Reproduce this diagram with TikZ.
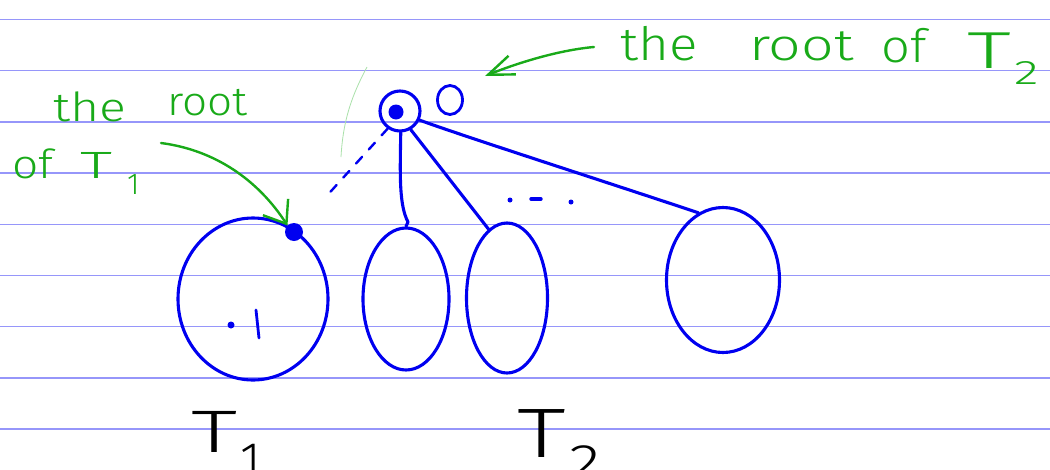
\documentclass[tikz,border=0pt]{standalone}
\usepackage{fontspec}
\IfFontExistsTF{Fira Sans Light}{\newfontfamily\hand{Fira Sans Light}}{\newfontfamily\hand{Fira Sans}}
\usetikzlibrary{shapes.geometric,arrows.meta}
\definecolor{rulec}{RGB}{150,150,250}
\definecolor{pen}{RGB}{0,0,240}
\definecolor{gpen}{RGB}{25,170,25}
\definecolor{faint}{RGB}{170,225,170}
\newcommand\hw[3]{{\hand\fontsize{#1}{#1}\selectfont\scalebox{#2}[1]{#3}}}
\begin{document}
\begin{tikzpicture}[x=1pt,y=-1pt,
  rule/.style={rulec,line width=1.4pt},
  bluepen/.style={pen,line width=3.1pt,line cap=round,line join=round},
  greenpen/.style={gpen,line width=2.4pt,line cap=round,line join=round},
  subtree/.style={ellipse,draw=pen,line width=3.1pt,inner sep=0pt},
  gtext/.style={text=gpen,inner sep=0pt,anchor=base west},
  ktext/.style={text=black,inner sep=0pt,anchor=base west},
]
\useasboundingbox (0,0) rectangle (1050,469);
\fill[white] (0,0) rectangle (1050,469);
\foreach \y in {19.5,70.7,121.9,173.1,224.3,275.5,326.7,377.9,429.1}
  \draw[rule] (0,\y) -- (1050,\y);

% faint stray stroke
\draw[faint,line width=0.8pt] (367,67) .. controls (352,95) and (343,120) .. (341,157);

% nodes of the trees
\node[circle,draw=pen,line width=3.1pt,minimum size=40pt,inner sep=0pt] (root2) at (400,111) {};
\node[circle,fill=pen,minimum size=15pt,inner sep=0pt] (root2dot) at (396,112) {};
\node[ellipse,draw=pen,line width=2.8pt,minimum width=25pt,minimum height=29pt,inner sep=0pt] (small) at (450,100) {};
\node[subtree,minimum width=150pt,minimum height=162pt] (t1) at (253,299) {};
\node[circle,fill=pen,minimum size=18pt,inner sep=0pt] (root1) at (294,232) {};
\node[subtree,minimum width=86pt,minimum height=142pt] (subA) at (406,299) {};
\node[subtree,minimum width=81pt,minimum height=150pt] (subB) at (507,298) {};
\node[subtree,minimum width=113pt,minimum height=145pt] (subC) at (723,280) {};

% inside T1
\node[circle,fill=pen,minimum size=7pt,inner sep=0pt] (inner) at (231,325) {};
\draw[bluepen,line width=2.8pt] (256,310) -- (259,338);

% edges
\draw[bluepen,line width=2.4pt,dash pattern=on 9pt off 10pt,shorten >=38pt] (root2.235) -- (root1);
\coordinate (ka) at (408,222);
\draw[bluepen] (root2.272) .. controls (400,175) and (399,205) .. (ka) -- (subA.north);
\draw[bluepen] (root2.300) -- (subB.105);
\draw[bluepen] (root2.335) .. controls (460,135) and (600,180) .. (subC.110);

% dots between subtrees
\node[circle,fill=pen,minimum size=5pt,inner sep=0pt] (d1) at (510,200) {};
\draw[bluepen,line width=3.4pt] (531,199) -- (541,199);
\node[circle,fill=pen,minimum size=5pt,inner sep=0pt] (d2) at (571,202) {};

% green annotations
\coordinate (g2tail) at (594,47);
\coordinate (g2tip) at (485,76);
\draw[greenpen,-{Straight Barb[length=26pt,width=20pt]}] (g2tail) .. controls (560,50) and (520,62) .. (g2tip);
\coordinate (g1tail) at (161,143);
\draw[greenpen,-{Straight Barb[length=20pt,width=30pt]}] (g1tail) .. controls (215,150) and (258,180) .. (root1.north west);

\node[gtext] (l1) at (53,121) {\hw{40}{1.25}{the}};
\node[gtext] (l2) at (167,115) {\hw{40}{1.1}{root}};
\node[gtext] (l3) at (12,178) {\hw{40}{1.15}{of}};
\node[gtext] (l4) at (80,178) {\hw{38}{1.7}{T}};
\node[gtext] (l5) at (127,194) {\hw{30}{1}{1}};

\node[gtext] (r1) at (620,60) {\hw{46}{1.15}{the}};
\node[gtext] (r2) at (749,60) {\hw{44}{1.3}{root}};
\node[gtext] (r3) at (881,62) {\hw{46}{1.1}{of}};
\node[gtext] (r4) at (967,68) {\hw{52}{1.7}{T}};
\node[gtext] (r5) at (1014,84) {\hw{34}{1.5}{2}};

% black labels
\node[ktext] (T1) at (191,452) {\hw{60}{1.55}{T}};
\node[ktext] (T1s) at (240,477) {\hw{50}{1}{1}};
\node[ktext] (T2) at (517,457) {\hw{70}{1.4}{T}};
\node[ktext] (T2s) at (569,479) {\hw{50}{1.3}{2}};
\end{tikzpicture}
\end{document}
